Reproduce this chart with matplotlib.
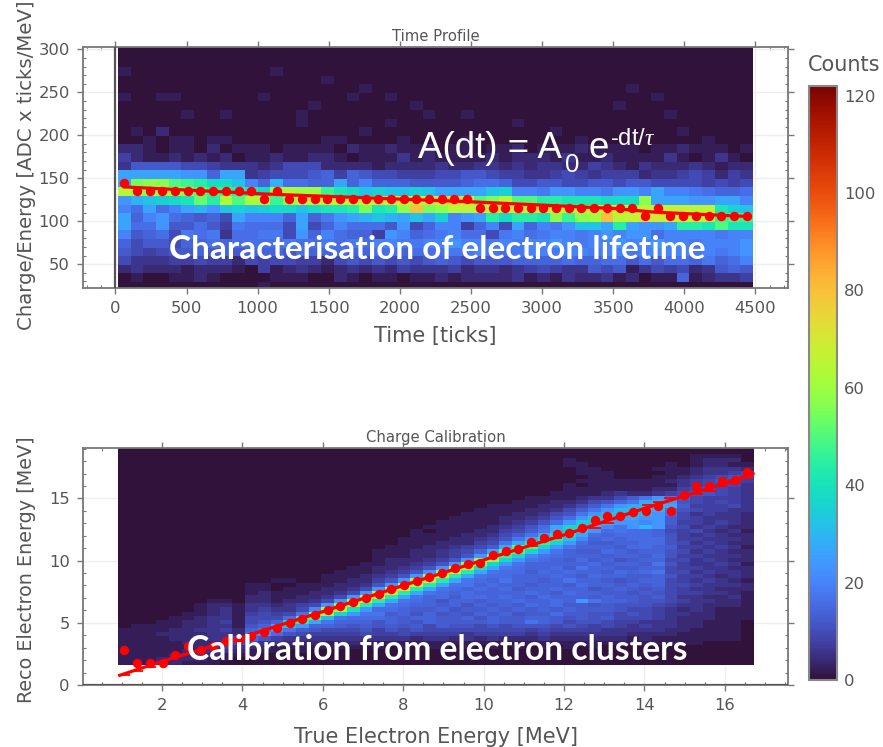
import numpy as np
import matplotlib
matplotlib.use('Agg')
import matplotlib.pyplot as plt
from matplotlib.ticker import MultipleLocator

# counts per cell, one character per cell (see parse_rows), rows from top to bottom
time_rows = [
    "0000000000 0000000000 0000000000 0000000000 0000000000",
    "0000000000 0000000000 0000000000 0000000000 0000000000",
    "0000000000 0000000000 0000000000 0000000000 0000000000",
    "1000000000 0010000000 0000000000 0000000000 0000000000",
    "0000000000 0000001000 0000000000 0000000000 0000000000",
    "0000000000 0000000001 0000000000 0000000000 1000000000",
    "1001100000 0100000010 0100000000 0000000000 0010000000",
    "0000000000 0000010000 0001000000 0000000001 0000000000",
    "0000010010 0000100000 0000100100 0000000000 0001000000",
    "0000000000 0000100000 0100000000 0100000000 0000000000",
    "0102000000 0000000001 0000000000 0000100000 0000100000",
    "0010110110 0000001100 0010000100 0000001000 0000001000",
    "2210110201 1101111021 1211201101 1201112111 1011211101",
    "4211212120 1121122101 1131211112 1222131121 1113101310",
    "3666655433 3235552222 1222232233 2323322432 1322232122",
    "ccccc bb7cc 3455567476 55444 55665 44334 54344 42334 54243",
    "cmnnkjigge a7d8877c7a 77766 66788 75566 55665 66555 54545",
    "qnnoonkjji hgopoojhge feefe cccce faa9b baa9b bacaa 98778",
    "bdefghlipk ppjnqqrqrq srsqt stskm qkkii hhhgg gnccc bbcca",
    "a8c8acdbef efggeghhim hinwm nqqrs ssrsr qrsrs oqqrr qqhfe",
    "c7ab87675c aaa7c79bcd edcec fabci giihn jnowq rssqr qrjkj",
    "c88b668649 8885c57a88 86b57 aa47a 5c7a9 beeci cbbci ihkhh",
    "a678598938 8995b7a877 4ba78 9a885 9a89a a9aba bb8aa aa9aa",
    "7566577878 8889889898 aa99a abaa9 a9aab a9aab aabaa 9aaab",
    "6545667676 7776877877 88788 899a9 89aa9 aa9aa 9aaaa 9a9ab",
    "5333445442 5455442565 65656 76566 67777 87788 68688 7978a",
    "2322212221 0412321232 32433 34233 23454 33656 13545 23676",
    "0100112100 0011100210 11011 21222 23121 32231 20117 12334",
    "0000000000 0100000000 0000000000 0000000000 0000000000",
]

energy_rows = [
    "0000000000 0000000000 0000000000 0000000000 0000000000",
    "0000000000 0000000000 0000000000 0000000000 0000000000",
    "0000000000 0000000000 0000000000 0000000000 0000011110",
    "0000000000 0000000000 0000000000 0000010000 0000012220",
    "0000000000 0000000000 0000000000 0000011000 0001012211",
    "0000000000 0000000000 0000000000 0000001100 0011123332",
    "0000000000 0000000000 0000000000 0000001110 0001123345",
    "0000000000 0000000000 0000000000 0000000110 0011234565",
    "0000000000 0000000000 0000000000 0000001111 1112345654",
    "0000000000 0000000000 0000000000 0000010111 1111345553",
    "0000000000 0000000000 0000000000 0000011111 1122456543",
    "0000000000 0000000000 0000000000 0000111123 2234566543",
    "0000000000 0000000000 0000000000 0011112335 7aca754443",
    "0000000000 0000000000 0000000000 0111223568 adec654543",
    "0000000000 0000000000 0000000001 1112235 7ac deed744453",
    "0000000000 0000000000 0000000011 1122357ace eeda654433",
    "0000000000 0000000000 0000000111 122356acee eec9534332",
    "0000000000 0000000000 0000001111 223469cffe dcc7543332",
    "0000000000 0000000000 0000011111 23469cffec cbc7443432",
    "0000000000 0000000000 0000111112 3469dggeba cec6534322",
    "0000000000 0000000000 0001011122 457adggc9a 9985453231",
    "0000000000 0000000000 0001111223 57adhhd989 9986434322",
    "0000000000 0000000000 0011112234 6adiifb898 9996443332",
    "0000000000 0000000000 0011122245 adijgc9778 8996534322",
    "0000000000 0000000000 0111223457 dkkgca8887 9987443431",
    "0000000000 0000000000 111223458d lkgca87798 7886534322",
    "0000000000 0000000000 11122346cl jgba988878 8796443332",
    "0000000000 0000000000 1222346con gca9879786 7885534322",
    "0000000000 0000000001 122346coog ca88888978 87a6433431",
    "0000000000 0000000011 22346cpphd a98897a887 7885443322",
    "0000000000 0000000111 2346cqqida 9979898879 89a5534332",
    "0000000000 0000001112 346cqrida9 9888987988 7786443232",
    "0000000000 0011001122 46cqrida98 a8878a8876 7885434321",
    "0000000000 1100111223 6cqridaa89 8878879887 8785543332",
    "0000000000 1101112235 cqsida9898 9788988678 7675433222",
    "0000000000 121112235c rsida98988 8898798877 6765443321",
    "0000000000 22112235cq rida897998 9879888787 7675332231",
    "0000000110 2212235cqr ida9868878 898898ca88 7665433221",
    "0000001221 332345cpqi da98878687 8798977676 6654332221",
    "0000001231 34335boohc 9987786778 7878787776 5543232111",
    "0000011231 4545amngca a786867687 8677977665 6543322111",
    "0000112331 5559jkea99 9878877868 7788767675 5543222111",
    "0001122341 568gida888 6876877778 77a8756654 4333221110",
    "0111122331 68dfc88767 6767576656 5666565454 3433221110",
    "1111223342 8aca765556 4656555555 5545444433 3332211110",
    "1112222332 ac96544445 4454444344 4434333333 2222111110",
    "1111222335 9643333333 3332332323 2223222222 1211111110",
    "1111122245 5332221221 1111111111 1111111111 1111110000",
    "1111112343 2211111110 1010110101 0101010100 0000000000",
    "1111122332 1110100000 0000000000 0000000000 0000000000",
    "1111223211 1000000000 0000000000 0000000000 0000000000",
    "1112222110 0000000000 0000000000 0000000000 0000000000",
    "1112211100 0000000000 0000000000 0000000000 0000000000",
]

# what the characters stand for
level_chars = [0, 4, 10, 20, 35]
time_levels = [0, 8, 20, 50, 87.5]
energy_levels = [0, 8, 17, 50, 87.5]

# profile points, one per column
time_points = [145, 135.5, 135.5, 135.5, 135.5, 135.5, 135.5, 135.5, 135.5, 135.5,
               135.5, 126, 135.5, 126, 126, 126, 126, 126, 126, 126,
               126, 126, 126, 126, 126, 126, 126, 126, 116, 116,
               116, 116, 116, 116, 116, 116, 116, 116, 116, 116,
               116, 106, 116, 106, 106, 106, 106, 106, 106, 106]
energy_points = [2.83, 1.76, 1.76, 1.76, 2.43, 3.1, 2.83, 3.1, 3.5, 3.64,
                 3.9, 4.28, 4.57, 4.95, 5.3, 5.64, 6.0, 6.34, 6.66, 7.03,
                 7.35, 7.7, 8.05, 8.37, 8.69, 9.04, 9.39, 9.73, 9.84, 10.43,
                 10.75, 10.9, 11.47, 11.82, 12.14, 12.25, 12.6, 13.24, 13.58, 13.58,
                 13.9, 14.0, 14.39, 14.0, 15.27, 16.0, 16.0, 16.36, 16.44, 17.09]

# fit curves
time_fit_x = [62, 1060, 2480, 3500, 3800, 4460]
time_fit_y = [140, 131.7, 122.8, 115, 110.5, 105.5]
energy_fit_x = [0.95, 2, 4, 6, 8, 10, 12, 14, 16, 16.7]
energy_fit_y = [0.78, 1.9, 3.85, 5.9, 8.0, 10.05, 12.06, 14.2, 16.2, 17.0]

# small caps on the fit
cap_x = [1.05, 1.37, 1.69, 11.2, 11.8, 12.78, 13.1, 14.1, 14.35, 14.64, 15.3, 15.62, 15.93, 16.25, 16.57]
cap_y = [0.78, 1.15, 1.45, 11.2, 11.85, 12.6, 13.05, 14.46, 14.7, 15.0, 15.37, 15.6, 16.0, 16.25, 16.6]

time_bins = (17.6, 89.3)
time_row_bins = (19.5, 10.0)
energy_bins = (0.905, 0.3162)
energy_row_bins = (1.57, 0.333)

COUNT_MAX = 122
TEXT = '#555555'
FRAME = '#777777'


def parse_rows(rows, levels):
    table = [[int(c, 36) for c in r.replace(' ', '')] for r in rows]
    return np.interp(np.array(table)[::-1], level_chars, levels)


def edges(start_step, n):
    return start_step[0] + start_step[1] * np.arange(n + 1)


def px_axes(fig, left, top, right, bottom):
    w, h = 883, 747
    return fig.add_axes([left / w, 1 - bottom / h, (right - left) / w, (bottom - top) / h])


def style_axes(ax, xmajor, xminor, ymajor, yminor):
    ax.xaxis.set_major_locator(MultipleLocator(xmajor))
    ax.xaxis.set_minor_locator(MultipleLocator(xminor))
    ax.yaxis.set_major_locator(MultipleLocator(ymajor))
    ax.yaxis.set_minor_locator(MultipleLocator(yminor))
    ax.tick_params(which='major', direction='out', length=4.5, width=1, color=FRAME,
                   top=True, right=True, labelsize=11.8, labelcolor=TEXT, pad=5)
    ax.tick_params(which='minor', direction='in', length=2.5, width=0.8, color=FRAME,
                   top=True, right=True)
    ax.grid(True, which='major', color='#eeeeee', linewidth=1)
    ax.set_axisbelow(True)
    for s in ax.spines.values():
        s.set_color(FRAME)
        s.set_linewidth(1.3)


def draw_heat(ax, xb, yb, rows, levels):
    z = parse_rows(rows, levels)
    xe = edges(xb, z.shape[1])
    ye = edges(yb, z.shape[0])
    return ax.pcolormesh(xe, ye, z, cmap='turbo', vmin=0, vmax=COUNT_MAX, zorder=2)


plt.rcParams['mathtext.fontset'] = 'custom'
plt.rcParams['mathtext.rm'] = 'Liberation Sans'
plt.rcParams['mathtext.it'] = 'Liberation Serif:italic'

fig = plt.figure(figsize=(8.83, 7.47), dpi=100)

# time profile
ax1 = px_axes(fig, 83, 47, 788, 288)
mesh = draw_heat(ax1, time_bins, time_row_bins, time_rows, time_levels)
ax1.axvline(0, color='#555555', linewidth=1.6, zorder=3)
centers1 = edges(time_bins, 50)[:-1] + time_bins[1] / 2
ax1.plot(time_fit_x, time_fit_y, color='red', linewidth=2.3, zorder=4)
ax1.plot(centers1, time_points, 'o', color='red', markersize=6.8, markeredgewidth=0, zorder=5)
ax1.set_xlim(-228, 4729)
ax1.set_ylim(22.4, 302.7)
style_axes(ax1, 500, 100, 50, 10)
ax1.set_title('Time Profile', fontsize=10.7, color=TEXT, pad=4)
ax1.set_xlabel('Time [ticks]', fontsize=15, color=TEXT, labelpad=7)
ax1.set_ylabel('Charge/Energy [ADC x ticks/MeV]', fontsize=14.2, color=TEXT)
ax1.yaxis.set_label_coords(-0.066, 0.51)
# the formula, piece by piece
ax1.text(2127, 173.6, 'A(dt) = A', color='white', fontsize=26.5, family='Liberation Sans', zorder=6)
ax1.text(3161, 157.3, '0', color='white', fontsize=18.5, family='Liberation Sans', zorder=6)
ax1.text(3329, 173.6, 'e', color='white', fontsize=26.5, family='Liberation Sans', zorder=6)
ax1.text(3477, 188.7, r'-dt/$\mathit{\tau}$', color='white', fontsize=17, family='Liberation Sans', zorder=6)
ax1.text(2264, 67, 'Characterisation of electron lifetime', color='white', fontsize=24,
         family='Lato', fontweight='bold', ha='center', va='center', zorder=6)

# charge calibration
ax2 = px_axes(fig, 83, 448, 788, 685)
draw_heat(ax2, energy_bins, energy_row_bins, energy_rows, energy_levels)
ax2.axhline(0, color='#555555', linewidth=1.6, zorder=3)
centers2 = edges(energy_bins, 50)[:-1] + energy_bins[1] / 2
ax2.plot(energy_fit_x, energy_fit_y, color='red', linewidth=2.3, zorder=4)
ax2.plot(cap_x, cap_y, linestyle='none', marker='_', color='red', markersize=8, markeredgewidth=1.3, zorder=4)
ax2.plot(centers2, energy_points, 'o', color='red', markersize=6.8, markeredgewidth=0, zorder=5)
ax2.set_xlim(0.034, 17.57)
ax2.set_ylim(0, 19.05)
style_axes(ax2, 2, 0.5, 5, 1)
ax2.set_title('Charge Calibration', fontsize=10.7, color=TEXT, pad=4)
ax2.set_xlabel('True Electron Energy [MeV]', fontsize=15, color=TEXT, labelpad=10)
ax2.set_ylabel('Reco Electron Energy [MeV]', fontsize=13.8, color=TEXT)
ax2.yaxis.set_label_coords(-0.066, 0.487)
ax2.text(8.84, 2.85, 'Calibration from electron clusters', color='white', fontsize=24.2,
         family='Lato', fontweight='bold', ha='center', va='center', zorder=6)

# colorbar
cax = px_axes(fig, 809, 86, 837, 680)
cb = fig.colorbar(mesh, cax=cax, ticks=[0, 20, 40, 60, 80, 100, 120])
cb.ax.tick_params(length=0, labelsize=11.8, labelcolor=TEXT, pad=5)
cb.outline.set_edgecolor('#888888')
cb.outline.set_linewidth(1.5)
fig.text(808 / 883, 1 - 65 / 747, 'Counts', fontsize=15, color=TEXT, va='center')

fig.savefig('out.png', dpi=100)
